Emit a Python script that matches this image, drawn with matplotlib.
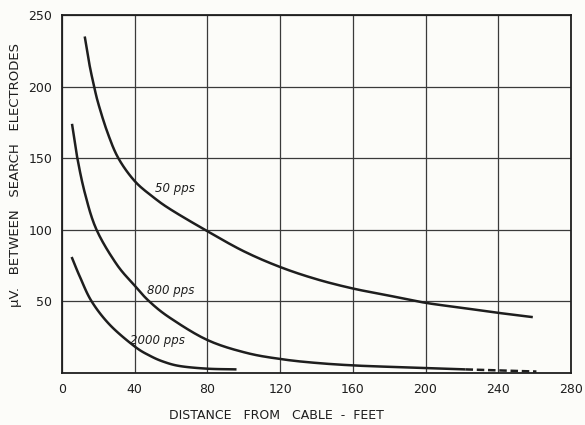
import matplotlib
matplotlib.use('Agg')
import matplotlib.pyplot as plt
import numpy as np

# curves (distance in feet, microvolts)
x_50 = [12.5, 15, 17.5, 20, 25, 31, 40, 50, 60, 80, 100, 120, 140, 160, 180, 200, 220, 240, 259]
y_50 = [235, 216, 201, 188, 168, 150, 134, 123, 114, 99, 85, 74, 65.5, 59, 54, 49, 45.5, 42, 39]

x_800 = [5.5, 8.3, 12.7, 19, 30, 40, 48, 59.4, 80, 101.6, 121.6, 140, 160, 180, 200, 222]
y_800 = [174, 151, 125, 100, 76, 61, 50, 38.5, 23, 14, 9.5, 7, 5.3, 4.3, 3.5, 2.5]
x_800_dash = [222, 261]
y_800_dash = [2.5, 1.0]

x_2000 = [5.3, 9.9, 16.3, 26.4, 40, 48.4, 56, 65, 80, 96]
y_2000 = [81, 67, 50, 33.5, 18.5, 12, 7.8, 4.8, 3, 2.5]

xticks = [0, 40, 80, 120, 160, 200, 240, 280]
yticks = [50, 100, 150, 200, 250]


def smooth(xs, ys, n=12):
    # catmull-rom pass through the read points so the pen line is curved
    p = np.column_stack([xs, ys]).astype(float)
    p = np.vstack([2 * p[0] - p[1], p, 2 * p[-1] - p[-2]])
    t = np.linspace(0, 1, n, endpoint=False)[:, None]
    out = []
    for i in range(1, len(p) - 2):
        p0, p1, p2, p3 = p[i - 1], p[i], p[i + 1], p[i + 2]
        out.append(0.5 * (2 * p1 + (-p0 + p2) * t + (2 * p0 - 5 * p1 + 4 * p2 - p3) * t**2
                          + (-p0 + 3 * p1 - 3 * p2 + p3) * t**3))
    out.append(p[-2][None, :])
    out = np.vstack(out)
    return out[:, 0], out[:, 1]


plt.rcParams['font.family'] = ['DejaVu Sans']

ink = '#1e1e1e'
paper = '#fcfcf9'

fig = plt.figure(figsize=(5.85, 4.25), dpi=100, facecolor=paper)
ax = fig.add_axes([0.106, 0.1224, 0.870, 0.8423], facecolor=paper)

for xs, ys in [(x_50, y_50), (x_800, y_800), (x_2000, y_2000)]:
    sx, sy = smooth(xs, ys)
    ax.plot(sx, sy, color=ink, lw=1.8, solid_capstyle='butt')
ax.plot(x_800_dash, y_800_dash, color=ink, lw=1.8, ls=(0, (3, 1.5)))

lab = dict(color=ink, fontsize=8.5, style='italic', ha='center', va='center')
ax.text(62, 129, '50 pps', **lab)
ax.text(60, 57.5, '800 pps', **lab)
ax.text(52.5, 22.5, '2000 pps', **lab)

ax.set_xlim(0, 280)
ax.set_ylim(0, 250)
ax.set_xticks(xticks)
ax.set_yticks(yticks)
ax.grid(True, color='#3a3a3a', lw=0.9)
ax.tick_params(length=0, labelsize=9, labelcolor=ink, pad=7)
for s in ax.spines.values():
    s.set_color(ink)
    s.set_linewidth(1.3)

ax.set_xlabel('DISTANCE   FROM   CABLE  -  FEET', fontsize=9, color=ink)
ax.set_ylabel('\u03bcV.   BETWEEN   SEARCH   ELECTRODES', fontsize=9.5, color=ink)
ax.xaxis.set_label_coords(0.422, -0.10)
ax.yaxis.set_label_coords(-0.079, 0.553)

fig.savefig('out.png', dpi=100, facecolor=paper)
